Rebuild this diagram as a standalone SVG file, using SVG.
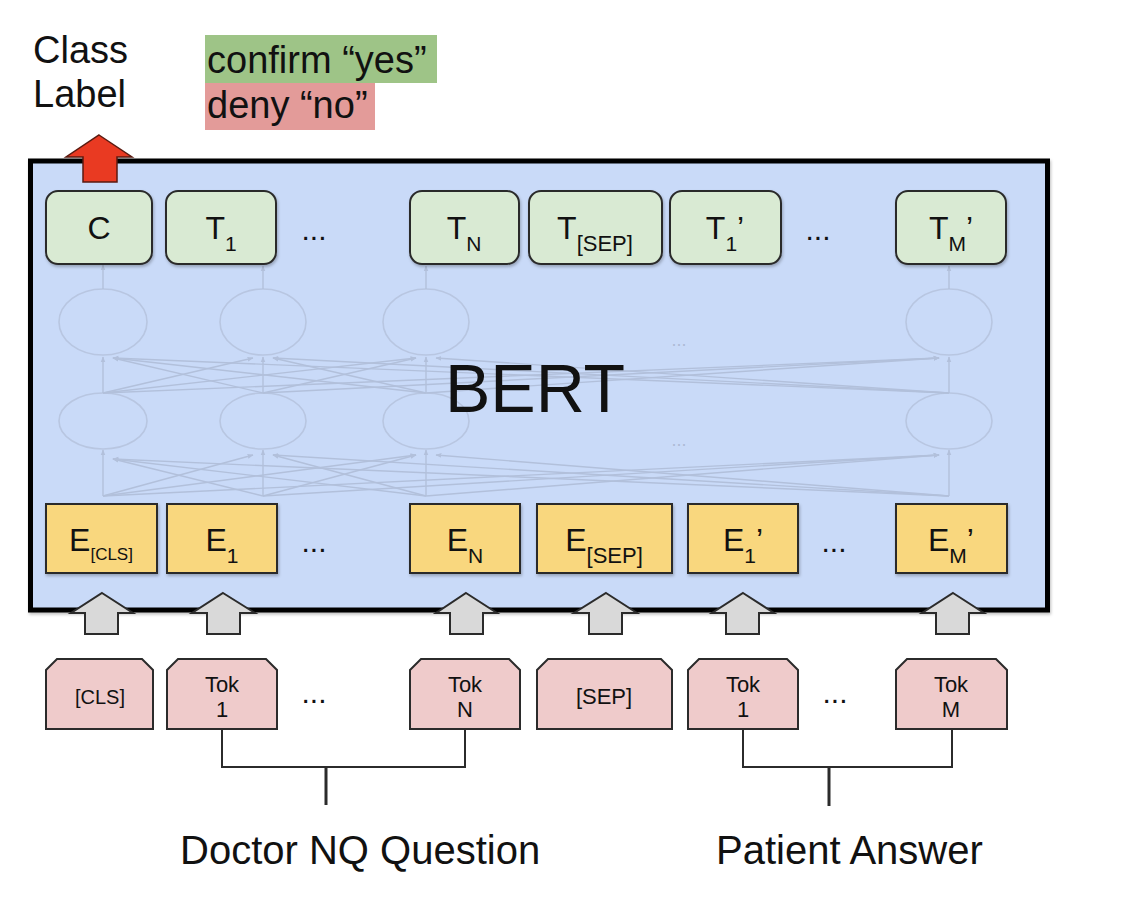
<svg xmlns="http://www.w3.org/2000/svg" width="1132" height="906" viewBox="0 0 1132 906">
<defs>
<style>
text{font-family:"Liberation Sans",Arial,sans-serif;fill:#111}
.tbox{fill:#d9ead3;stroke:#2b2b2b;stroke-width:2}
.ebox{fill:#f9d77e;stroke:#2b2b2b;stroke-width:2}
.tok{fill:#efcbcb;stroke:#2b2b2b;stroke-width:2}
.garrow{fill:#d9d9d9;stroke:#2b2b2b;stroke-width:2;stroke-linejoin:miter}
.net{stroke:#b2c0db;stroke-width:1.4;fill:none}
.nete{stroke:#b8c6e1;stroke-width:1.6;fill:none}
.main{font-size:32px}
.sub{font-size:21px}
.tokt{font-size:22px}
.dots{font-size:30px}
.brk{stroke:#2b2b2b;stroke-width:2;fill:none}
.lbl{font-size:40px}
.top{font-size:38px}
</style>
<marker id="na" viewBox="0 0 10 10" refX="9" refY="5" markerWidth="6" markerHeight="6" orient="auto-start-reverse" markerUnits="userSpaceOnUse">
<path d="M0,1 L10,5 L0,9 Z" fill="#b2c0db"/>
</marker>
<filter id="sh" x="-10%" y="-10%" width="130%" height="130%">
<feDropShadow dx="1" dy="2" stdDeviation="1.5" flood-color="#000" flood-opacity="0.25"/>
</filter>
</defs>
<rect width="1132" height="906" fill="#ffffff"/>

<g id="class-label">
<text class="top" x="33" y="63">Class</text>
<text class="top" x="33" y="107">Label</text>
</g>
<g id="legend">
<rect x="205" y="35" width="232" height="48" fill="#9ec487"/>
<rect x="205" y="83" width="170" height="47" fill="#e39b99"/>
<text class="top" x="207" y="73" font-size="39.5">confirm “yes”</text>
<text class="top" x="207" y="118" font-size="39.5">deny “no”</text>
</g>

<g id="bert">
<rect x="30.5" y="161" width="1017" height="449" fill="#c9daf8" stroke="#000" stroke-width="5" filter="url(#sh)"/>
</g>

<g id="network">
<g class="nete">
<ellipse cx="103" cy="322" rx="44" ry="33"/>
<ellipse cx="263" cy="322" rx="43" ry="33"/>
<ellipse cx="426" cy="322" rx="43" ry="33"/>
<ellipse cx="949" cy="322" rx="43" ry="33"/>
<ellipse cx="103" cy="421" rx="44" ry="28"/>
<ellipse cx="263" cy="421" rx="43" ry="28"/>
<ellipse cx="426" cy="421" rx="43" ry="28"/>
<ellipse cx="949" cy="421" rx="43" ry="28"/>
</g>
<g class="net">
<line x1="103" y1="289" x2="103" y2="265" marker-end="url(#na)"/>
<line x1="263" y1="289" x2="263" y2="266" marker-end="url(#na)"/>
<line x1="426" y1="289" x2="426" y2="266" marker-end="url(#na)"/>
<line x1="949" y1="289" x2="949" y2="266" marker-end="url(#na)"/>
<line x1="103" y1="393" x2="103" y2="357" marker-end="url(#na)"/>
<line x1="263" y1="393" x2="263" y2="357" marker-end="url(#na)"/>
<line x1="426" y1="393" x2="426" y2="357" marker-end="url(#na)"/>
<line x1="949" y1="393" x2="949" y2="357" marker-end="url(#na)"/>
<line x1="103" y1="393" x2="253" y2="358" marker-end="url(#na)"/>
<line x1="103" y1="393" x2="416" y2="358" marker-end="url(#na)"/>
<line x1="103" y1="393" x2="939" y2="358" marker-end="url(#na)"/>
<line x1="263" y1="393" x2="113" y2="358" marker-end="url(#na)"/>
<line x1="263" y1="393" x2="416" y2="358" marker-end="url(#na)"/>
<line x1="263" y1="393" x2="939" y2="358" marker-end="url(#na)"/>
<line x1="426" y1="393" x2="113" y2="358" marker-end="url(#na)"/>
<line x1="426" y1="393" x2="273" y2="358" marker-end="url(#na)"/>
<line x1="426" y1="393" x2="939" y2="358" marker-end="url(#na)"/>
<line x1="949" y1="393" x2="113" y2="358" marker-end="url(#na)"/>
<line x1="949" y1="393" x2="273" y2="358" marker-end="url(#na)"/>
<line x1="949" y1="393" x2="436" y2="358" marker-end="url(#na)"/>
<line x1="103" y1="496" x2="103" y2="450" marker-end="url(#na)"/>
<line x1="263" y1="496" x2="263" y2="450" marker-end="url(#na)"/>
<line x1="426" y1="496" x2="426" y2="450" marker-end="url(#na)"/>
<line x1="949" y1="496" x2="949" y2="450" marker-end="url(#na)"/>
<line x1="103" y1="496" x2="253" y2="455" marker-end="url(#na)"/>
<line x1="103" y1="496" x2="416" y2="455" marker-end="url(#na)"/>
<line x1="103" y1="496" x2="939" y2="455" marker-end="url(#na)"/>
<line x1="263" y1="496" x2="113" y2="459" marker-end="url(#na)"/>
<line x1="263" y1="496" x2="416" y2="455" marker-end="url(#na)"/>
<line x1="263" y1="496" x2="939" y2="455" marker-end="url(#na)"/>
<line x1="426" y1="496" x2="113" y2="459" marker-end="url(#na)"/>
<line x1="426" y1="496" x2="273" y2="455" marker-end="url(#na)"/>
<line x1="426" y1="496" x2="939" y2="455" marker-end="url(#na)"/>
<line x1="949" y1="496" x2="113" y2="459" marker-end="url(#na)"/>
<line x1="949" y1="496" x2="273" y2="455" marker-end="url(#na)"/>
<line x1="949" y1="496" x2="436" y2="455" marker-end="url(#na)"/>
</g>
<text x="679" y="346" font-size="18" text-anchor="middle" style="fill:#adbbd6">...</text>
<text x="679" y="446" font-size="18" text-anchor="middle" style="fill:#adbbd6">...</text>
</g>

<g id="bert-label">
<text x="535" y="412" font-size="68" text-anchor="middle">BERT</text>
</g>

<g id="out-C"><rect class="tbox" x="46" y="191" width="106" height="73" rx="12" filter="url(#sh)"/><text class="main" x="99" y="239" text-anchor="middle">C</text></g>
<g id="out-T1"><rect class="tbox" x="166" y="191" width="110" height="73" rx="12" filter="url(#sh)"/><text class="main" x="221" y="239" text-anchor="middle">T<tspan class="sub" dy="12">1</tspan></text></g>
<g id="out-TN"><rect class="tbox" x="410" y="191" width="109" height="73" rx="12" filter="url(#sh)"/><text class="main" x="464" y="239" text-anchor="middle">T<tspan class="sub" dy="12">N</tspan></text></g>
<g id="out-TSEP"><rect class="tbox" x="529" y="191" width="133" height="73" rx="12" filter="url(#sh)"/><text class="main" x="595" y="239" text-anchor="middle">T<tspan font-size="22" dy="12">[SEP]</tspan></text></g>
<g id="out-T1p"><rect class="tbox" x="670" y="191" width="111" height="73" rx="12" filter="url(#sh)"/><text class="main" x="725" y="239" text-anchor="middle">T<tspan class="sub" dy="12">1</tspan><tspan dy="-12">’</tspan></text></g>
<g id="out-TMp"><rect class="tbox" x="896" y="191" width="110" height="73" rx="12" filter="url(#sh)"/><text class="main" x="951" y="239" text-anchor="middle">T<tspan class="sub" dy="12">M</tspan><tspan dy="-12">’</tspan></text></g>
<text class="dots" x="314" y="240" text-anchor="middle">...</text>
<text class="dots" x="818" y="240" text-anchor="middle">...</text>

<g id="emb-CLS"><rect class="ebox" x="46" y="504" width="111" height="69" filter="url(#sh)"/><text class="main" x="101" y="551" text-anchor="middle">E<tspan font-size="17" dy="9">[CLS]</tspan></text></g>
<g id="emb-1"><rect class="ebox" x="167" y="504" width="110" height="69" filter="url(#sh)"/><text class="main" x="222" y="551" text-anchor="middle">E<tspan class="sub" dy="12">1</tspan></text></g>
<g id="emb-N"><rect class="ebox" x="410" y="504" width="110" height="69" filter="url(#sh)"/><text class="main" x="465" y="551" text-anchor="middle">E<tspan class="sub" dy="12">N</tspan></text></g>
<g id="emb-SEP"><rect class="ebox" x="537" y="504" width="135" height="69" filter="url(#sh)"/><text class="main" x="604" y="551" text-anchor="middle">E<tspan font-size="22" dy="12">[SEP]</tspan></text></g>
<g id="emb-1p"><rect class="ebox" x="688" y="504" width="110" height="69" filter="url(#sh)"/><text class="main" x="743" y="551" text-anchor="middle">E<tspan class="sub" dy="12">1</tspan><tspan dy="-12">’</tspan></text></g>
<g id="emb-Mp"><rect class="ebox" x="896" y="504" width="111" height="69" filter="url(#sh)"/><text class="main" x="951" y="551" text-anchor="middle">E<tspan class="sub" dy="12">M</tspan><tspan dy="-12">’</tspan></text></g>
<text class="dots" x="314" y="552" text-anchor="middle">...</text>
<text class="dots" x="834" y="552" text-anchor="middle">...</text>

<g id="connectors">
<polygon points="99,135 132,157 117,157 117,182 83,182 83,157 66,157" fill="#e93a22" stroke="#5a1a10" stroke-width="1.5"/>
<polygon class="garrow" points="102,593 133,613 118,613 118,634 85,634 85,613 71,613"/>
<polygon class="garrow" points="223,593 255,613 240,613 240,634 207,634 207,613 192,613"/>
<polygon class="garrow" points="466,593 497,613 483,613 483,634 450,634 450,613 436,613"/>
<polygon class="garrow" points="606,593 637,613 622,613 622,634 589,634 589,613 574,613"/>
<polygon class="garrow" points="743,593 774,613 759,613 759,634 726,634 726,613 712,613"/>
<polygon class="garrow" points="953,593 984,613 969,613 969,634 936,634 936,613 922,613"/>
<polyline class="brk" points="222,729 222,767 465,767 465,729"/>
<line x1="326" y1="767" x2="326" y2="805" stroke="#2b2b2b" stroke-width="3"/>
<polyline class="brk" points="743,729 743,767 952,767 952,729"/>
<line x1="829" y1="767" x2="829" y2="806" stroke="#2b2b2b" stroke-width="3"/>
</g>

<g id="tok-CLS"><path class="tok" d="M46,670 L57,659 L142,659 L153,670 L153,729 L46,729 Z"/><text x="100" y="704" font-size="20" text-anchor="middle">[CLS]</text></g>
<g id="tok-1"><path class="tok" d="M167,670 L178,659 L266,659 L277,670 L277,729 L167,729 Z"/><text class="tokt" x="222" y="692" text-anchor="middle">Tok</text><text class="tokt" x="222" y="717" text-anchor="middle">1</text></g>
<g id="tok-N"><path class="tok" d="M410,670 L421,659 L509,659 L520,670 L520,729 L410,729 Z"/><text class="tokt" x="465" y="692" text-anchor="middle">Tok</text><text class="tokt" x="465" y="717" text-anchor="middle">N</text></g>
<g id="tok-SEP"><path class="tok" d="M537,670 L548,659 L661,659 L672,670 L672,729 L537,729 Z"/><text class="tokt" x="604" y="704" text-anchor="middle">[SEP]</text></g>
<g id="tok-1p"><path class="tok" d="M688,670 L699,659 L787,659 L798,670 L798,729 L688,729 Z"/><text class="tokt" x="743" y="692" text-anchor="middle">Tok</text><text class="tokt" x="743" y="717" text-anchor="middle">1</text></g>
<g id="tok-M"><path class="tok" d="M896,670 L907,659 L996,659 L1007,670 L1007,729 L896,729 Z"/><text class="tokt" x="951" y="692" text-anchor="middle">Tok</text><text class="tokt" x="951" y="717" text-anchor="middle">M</text></g>
<text class="dots" x="314" y="703" text-anchor="middle">...</text>
<text class="dots" x="835" y="703" text-anchor="middle">...</text>

<g id="label-question"><text class="lbl" x="180" y="864">Doctor NQ Question</text></g>
<g id="label-answer"><text class="lbl" x="716" y="864">Patient Answer</text></g>
</svg>
